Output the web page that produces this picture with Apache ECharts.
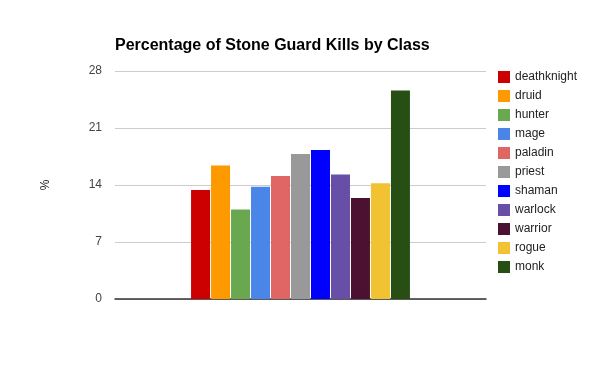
<!DOCTYPE html>
<html><head><meta charset="utf-8">
<script src="https://cdn.jsdelivr.net/npm/echarts@6/dist/echarts.min.js"></script>
<style>html,body{margin:0;padding:0;background:#fff}#c{width:600px;height:371px}</style>
</head><body><div id="c"></div>
<script>
const classes = ['deathknight','druid','hunter','mage','paladin','priest','shaman','warlock','warrior','rogue','monk'];
const values = [13.4, 16.4, 11.0, 13.8, 15.1, 17.8, 18.3, 15.3, 12.4, 14.2, 25.6];
const colors = ['#cc0000','#ff9900','#6aa84f','#4a86e8','#e06666','#999999','#0000ff','#674ea7','#4c1130','#f1c232','#274e13'];
const yTicks = [0, 7, 14, 21, 28];
const chart = echarts.init(document.getElementById('c'));
chart.setOption({
  animation: false,
  title: { text: 'Percentage of Stone Guard Kills by Class', left: 110, top: 33,
    textStyle: { fontFamily: 'Liberation Sans, Arial', fontSize: 16, fontWeight: 'bold', color: '#000' } },
  legend: { orient: 'vertical', left: 493, top: 66, itemWidth: 12, itemHeight: 12, itemGap: 7, icon: 'rect',
    textStyle: { fontFamily: 'Liberation Sans, Arial', fontSize: 12, color: '#222' },
    data: classes },
  grid: { left: 115, right: 114, top: 71, bottom: 72 },
  xAxis: { type: 'category', data: [''], axisTick: { show: false }, axisLabel: { show: false },
    axisLine: { lineStyle: { color: '#333', width: 1.5 } } },
  yAxis: { type: 'value', min: yTicks[0], max: yTicks[yTicks.length-1], interval: 7,
    name: '%', nameLocation: 'middle', nameGap: 63, nameRotate: 90,
    nameTextStyle: { fontFamily: 'Liberation Sans, Arial', fontSize: 12, color: '#222' },
    axisLine: { show: false }, axisTick: { show: false },
    axisLabel: { margin: 13, fontFamily: 'Liberation Sans, Arial', fontSize: 12, color: '#444' },
    splitLine: { lineStyle: { color: '#cccccc', width: 1 } } },
  series: classes.map((c, i) => ({
    name: c, type: 'bar', data: [values[i]], itemStyle: { color: colors[i] },
    barGap: '5.3%', barCategoryGap: '41%'
  }))
});
</script></body></html>
